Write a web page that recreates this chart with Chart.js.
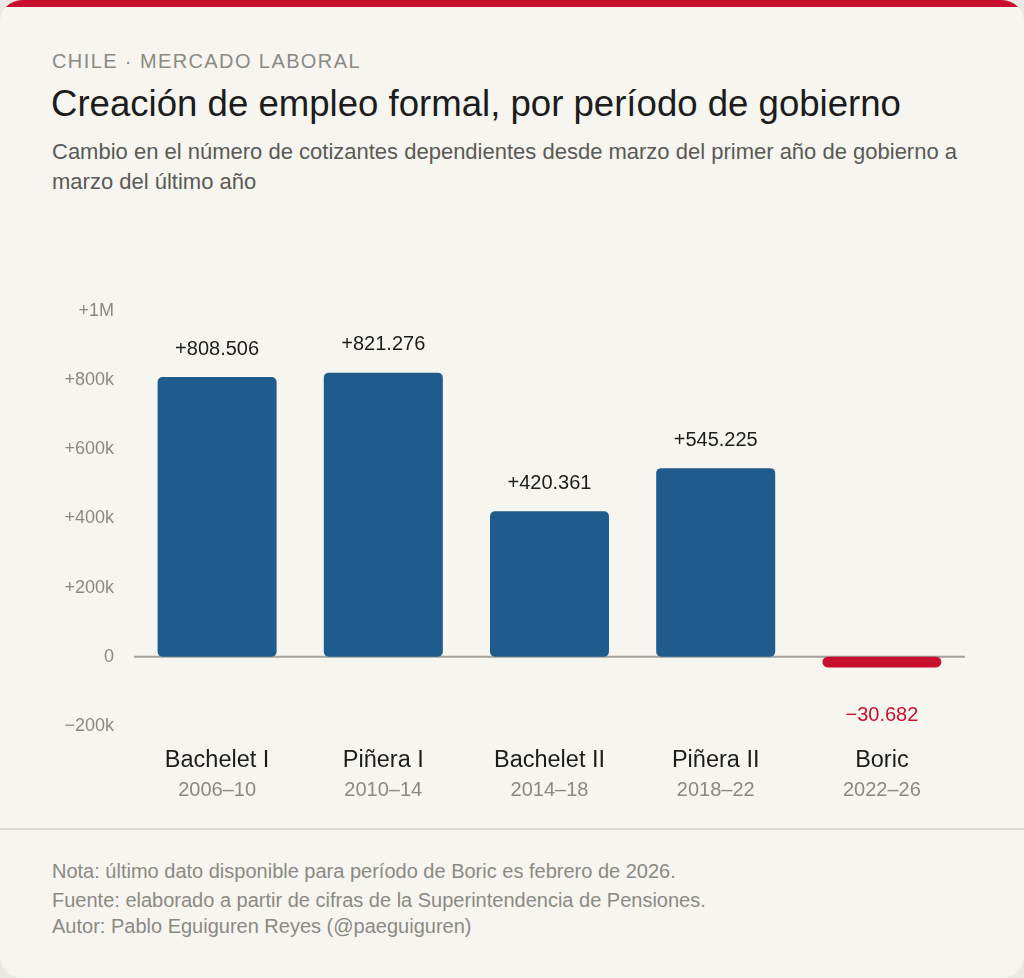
<!DOCTYPE html>
<html lang="es">
<head>
<meta charset="utf-8">
<script src="https://cdn.jsdelivr.net/npm/chart.js@4/dist/chart.umd.min.js"></script>
<style>
  html, body { margin: 0; padding: 0; background: #e9e8e3; }
  body { width: 1024px; height: 978px; overflow: hidden; font-family: "Liberation Sans", Arial, sans-serif; }
  .card {
    position: absolute; left: 0; top: 0; width: 1024px; height: 978px;
    background: #f6f5f0; border-radius: 22px; overflow: hidden;
  }
  .topbar { position: absolute; left: 0; top: 0; width: 100%; height: 7px; background: #c8102e; }
  .kicker { position: absolute; left: 52px; top: 50px; font-size: 20px; letter-spacing: 1.4px; color: #8b8a82; }
  .title { position: absolute; left: 51px; top: 83px; font-size: 36.6px; color: #1c1c1c; }
  .subtitle { position: absolute; left: 52px; top: 137px; width: 930px; font-size: 22px; line-height: 30px; color: #5a5a55; }
  .chart-wrap { position: absolute; left: 20px; top: 280px; width: 984px; height: 530px; }
  .rule { position: absolute; left: 0; top: 828px; width: 100%; height: 2px; background: #dcdad0; }
  .note { position: absolute; left: 52px; font-size: 20px; color: #8b8a82; white-space: nowrap; }
</style>
</head>
<body>
<div class="card">
  <div class="topbar"></div>
  <div class="kicker">CHILE · MERCADO LABORAL</div>
  <div class="title">Creación de empleo formal, por período de gobierno</div>
  <div class="subtitle">Cambio en el número de cotizantes dependientes desde marzo del primer año de gobierno a marzo del último año</div>
  <div class="chart-wrap"><canvas id="chart"></canvas></div>
  <div class="rule"></div>
  <div class="note" style="top:860px">Nota: último dato disponible para período de Boric es febrero de 2026.</div>
  <div class="note" style="top:889px">Fuente: elaborado a partir de cifras de la Superintendencia de Pensiones.</div>
  <div class="note" style="top:915px">Autor: Pablo Eguiguren Reyes (@paeguiguren)</div>
</div>
<script>
  var governments = ["Bachelet I", "Piñera I", "Bachelet II", "Piñera II", "Boric"];
  var periods = ["2006–10", "2010–14", "2014–18", "2018–22", "2022–26"];
  var jobsCreated = [808506, 821276, 420361, 545225, -30682];
  var valueLabels = ["+808.506", "+821.276", "+420.361", "+545.225", "−30.682"];
  var yTickValues = [1000000, 800000, 600000, 400000, 200000, 0, -200000];
  var yTickLabels = ["+1M", "+800k", "+600k", "+400k", "+200k", "0", "−200k"];

  var BLUE = "#1f5b8c";
  var RED = "#c8102e";
  var FONT = '"Liberation Sans", Arial, sans-serif';

  // value above/below each bar, then the government name and years under the plot
  var barLabels = {
    id: "barLabels",
    afterDatasetsDraw: function (chart) {
      var ctx = chart.ctx;
      var meta = chart.getDatasetMeta(0);
      ctx.save();
      ctx.textAlign = "center";
      ctx.textBaseline = "middle";
      meta.data.forEach(function (bar, i) {
        var v = jobsCreated[i];
        ctx.font = "20px " + FONT;
        if (v >= 0) {
          ctx.fillStyle = "#1c1c1c";
          ctx.fillText(valueLabels[i], bar.x, bar.y - 28);
        } else {
          ctx.fillStyle = RED;
          ctx.fillText(valueLabels[i], bar.x, bar.y + 48);
        }
        var base = chart.chartArea.bottom;
        ctx.fillStyle = "#1c1c1c";
        ctx.font = "23.5px " + FONT;
        ctx.fillText(governments[i], bar.x, base + 35);
        ctx.fillStyle = "#8b8a82";
        ctx.font = "20px " + FONT;
        ctx.fillText(periods[i], bar.x, base + 64);
      });
      ctx.restore();
    }
  };

  var zeroLine = {
    id: "zeroLine",
    beforeDatasetsDraw: function (chart) {
      var ctx = chart.ctx;
      var y = chart.scales.y.getPixelForValue(0);
      ctx.save();
      ctx.strokeStyle = "#a3a29c";
      ctx.lineWidth = 2;
      ctx.beginPath();
      ctx.moveTo(chart.chartArea.left, y);
      ctx.lineTo(chart.chartArea.right, y);
      ctx.stroke();
      ctx.restore();
    }
  };

  new Chart(document.getElementById("chart"), {
    type: "bar",
    data: {
      labels: governments,
      datasets: [{
        data: jobsCreated,
        backgroundColor: jobsCreated.map(function (v) { return v < 0 ? RED : BLUE; }),
        borderRadius: function (c) { return jobsCreated[c.dataIndex] < 0 ? 6 : 5; },
        borderSkipped: false,
        categoryPercentage: 1,
        barPercentage: 0.716,
      }],
    },
    options: {
      responsive: true,
      maintainAspectRatio: false,
      animation: false,
      layout: { padding: { top: 25, right: 39, bottom: 84, left: 0 } },
      plugins: { legend: { display: false }, tooltip: { enabled: false } },
      scales: {
        x: { display: false },
        y: {
          min: -200000,
          max: 1000000,
          afterFit: function (scale) { scale.width = 114; },
          afterBuildTicks: function (scale) {
            scale.ticks = yTickValues.map(function (v) { return { value: v }; });
          },
          grid: { display: false, drawTicks: false },
          border: { display: false },
          ticks: {
            padding: 20,
            color: "#8b8a82",
            font: { family: FONT, size: 18 },
            callback: function (value) {
              var i = yTickValues.indexOf(value);
              return i >= 0 ? yTickLabels[i] : "";
            },
          },
        },
      },
    },
    plugins: [zeroLine, barLabels],
  });
</script>
</body>
</html>
